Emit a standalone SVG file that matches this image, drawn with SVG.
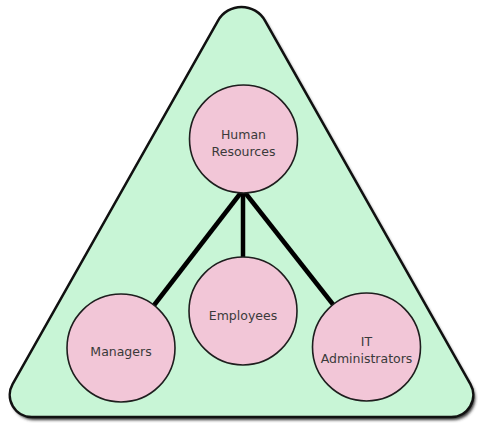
<svg xmlns="http://www.w3.org/2000/svg" width="478" height="423" viewBox="0 0 478 423">
<defs>
<filter id="sh" x="-10%" y="-10%" width="120%" height="120%"><feGaussianBlur stdDeviation="1.5"/></filter>
</defs>
<style>
.node circle{fill:#f2c6d7;stroke:#1e1e1e;stroke-width:1.6}
.node text{font-family:"DejaVu Sans",Verdana,sans-serif;font-size:12.5px;fill:#3a3a3a;text-anchor:middle}
.conn line{stroke:#000;stroke-width:4.5;stroke-linecap:butt}
</style>
<rect width="478" height="423" fill="#fff"/>
<g id="pyramid">
<path d="M 217.9 20.8 A 27 27 0 0 1 265.1 20.8 L 470.4 384.2 A 22 22 0 0 1 451.3 417 L 31.7 417 A 22 22 0 0 1 12.6 384.2 Z" fill="#333" transform="translate(2,3)" filter="url(#sh)"/>
<path d="M 217.9 20.8 A 27 27 0 0 1 265.1 20.8 L 470.4 384.2 A 22 22 0 0 1 451.3 417 L 31.7 417 A 22 22 0 0 1 12.6 384.2 Z" fill="#c8f5d6" stroke="#111" stroke-width="2.5"/>
</g>
<g class="conn" id="connectors">
<line x1="243" y1="190" x2="121" y2="348"/>
<line x1="243" y1="190" x2="243" y2="311"/>
<line x1="243" y1="190" x2="366.5" y2="347"/>
</g>
<g class="node" id="hr">
<circle cx="243.5" cy="139" r="54"/>
<text x="243.5" y="139">Human</text>
<text x="243.5" y="156">Resources</text>
</g>
<g class="node" id="employees">
<circle cx="243" cy="311" r="54"/>
<text x="243" y="320">Employees</text>
</g>
<g class="node" id="managers">
<circle cx="121" cy="348" r="54"/>
<text x="121" y="356">Managers</text>
</g>
<g class="node" id="it">
<circle cx="366.5" cy="347" r="54"/>
<text x="366.5" y="346">IT</text>
<text x="366.5" y="363">Administrators</text>
</g>
</svg>
